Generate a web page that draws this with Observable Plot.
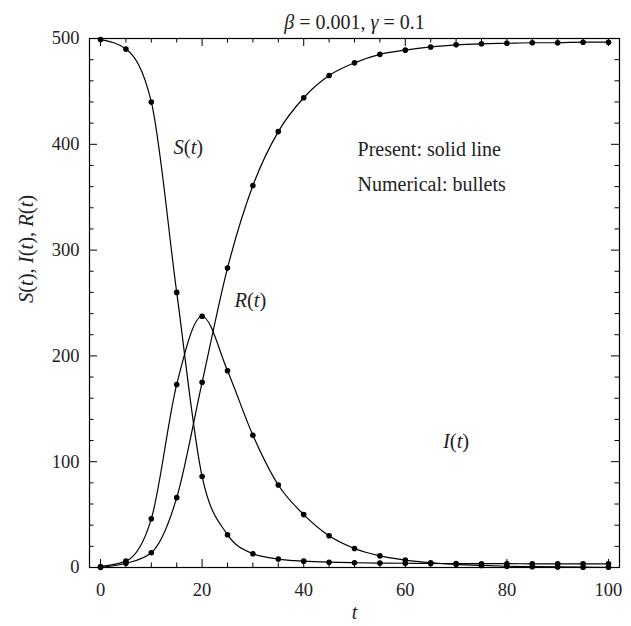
<!DOCTYPE html>
<html><head><meta charset="utf-8">
<script src="https://cdn.jsdelivr.net/npm/d3@7"></script>
<script src="https://cdn.jsdelivr.net/npm/@observablehq/plot@0.6"></script>
<style>
body{margin:0;background:#fff}
#chart svg, #chart svg text, #chart svg tspan {font-family: "Liberation Serif", "DejaVu Serif", serif !important;}
</style>
</head><body><div id="chart"></div>
<script>
const tValues = [0,5,10,15,20,25,30,35,40,45,50,55,60,65,70,75,80,85,90,95,100];
const susceptible = [499,490,440,260,86,31,13,8,6,5,4.5,4.2,4,3.8,3.7,3.6,3.6,3.5,3.5,3.5,3.5];
const infected = [1,6,46,173,237.5,186,125,78,50,30,18,11,7,4.5,3,2,1.2,0.8,0.5,0.3,0.2];
const recovered = [0,4,14,66,175,283,361,412,444,465,477,485,489,492,494,495,495.5,496,496,496.5,496.5];
const xMajorTicks = [0,20,40,60,80,100];
const xMinorTicks = [5,10,15,25,30,35,45,50,55,65,70,75,85,90,95];
const yMajorTicks = [0,100,200,300,400,500];
const yMinorTicks = [20,40,60,80,120,140,160,180,220,240,260,280,320,340,360,380,420,440,460,480];
const curveLabels = [
  {t: 17.3, v: 397, text: "S(t)"},
  {t: 29.5, v: 252, text: "R(t)"},
  {t: 70, v: 119, text: "I(t)"}
];
const noteLines = [
  {t: 50.6, v: 395, text: "Present: solid line"},
  {t: 50.6, v: 362, text: "Numerical: bullets"}
];
const titleText = "β = 0.001, γ = 0.1";
const xLabel = "t";
const yLabel = "S(t), I(t), R(t)";

const series = [
  {name: "S", values: susceptible},
  {name: "I", values: infected},
  {name: "R", values: recovered}
];
const rows = series.flatMap(s => tValues.map((t, i) => ({series: s.name, t, v: s.values[i]})));

const W = 631, H = 626, mt = 38, mb = 59, ml = 89, mr = 12;
const FW = W - ml - mr, FH = H - mt - mb;
const font = "Liberation Serif";
const ink = "#222";

const chart = Plot.plot({
  width: W, height: H,
  marginTop: mt, marginBottom: mb, marginLeft: ml, marginRight: mr,
  style: {fontFamily: font, fontSize: "18px", color: ink, background: "#fff"},
  x: {domain: [-2.17, 102.17]},
  y: {domain: [0, 500]},
  marks: [
    Plot.line(rows, {x: "t", y: "v", z: "series", curve: "monotone-x", stroke: "#000", strokeWidth: 1.2}),
    Plot.dot(rows, {x: "t", y: "v", r: 2.8, fill: "#000", stroke: "none"}),
    // ticks inward on all four sides
    Plot.tickX(xMajorTicks, {x: d => d, insetTop: FH - 8, stroke: "#000"}),
    Plot.tickX(xMajorTicks, {x: d => d, insetBottom: FH - 8, stroke: "#000"}),
    Plot.tickX(xMinorTicks, {x: d => d, insetTop: FH - 4.5, stroke: "#000"}),
    Plot.tickX(xMinorTicks, {x: d => d, insetBottom: FH - 4.5, stroke: "#000"}),
    Plot.tickY(yMajorTicks, {y: d => d, insetRight: FW - 8, stroke: "#000"}),
    Plot.tickY(yMajorTicks, {y: d => d, insetLeft: FW - 8, stroke: "#000"}),
    Plot.tickY(yMinorTicks, {y: d => d, insetRight: FW - 4.5, stroke: "#000"}),
    Plot.tickY(yMinorTicks, {y: d => d, insetLeft: FW - 4.5, stroke: "#000"}),
    Plot.frame({stroke: "#000", strokeWidth: 1.2}),
    Plot.axisX(xMajorTicks, {tickSize: 0, tickPadding: 15, fontSize: 18.5, fontFamily: font, fill: ink, label: null}),
    Plot.axisY(yMajorTicks, {tickSize: 0, tickPadding: 10, fontSize: 18.5, fontFamily: font, fill: ink, label: null}),
    Plot.text([xLabel], {frameAnchor: "bottom", dy: 51, fontSize: 20, fontFamily: font, fill: ink, text: d => d}),
    Plot.text([yLabel], {frameAnchor: "left", dx: -63, rotate: -90, fontSize: 20.5, fontFamily: font, fill: ink, text: d => d}),
    Plot.text([titleText], {frameAnchor: "top", dy: -24, fontSize: 20, fontFamily: font, fill: ink, text: d => d}),
    Plot.text(curveLabels, {x: "t", y: "v", text: "text", fontSize: 20.5, fontFamily: font, fill: ink}),
    Plot.text(noteLines, {x: "t", y: "v", text: "text", textAnchor: "start", fontSize: 20, fontFamily: font, fill: ink})
  ]
});
document.getElementById("chart").appendChild(chart);

// italicise math letters in math strings
const mathStrings = new Set([titleText, xLabel, yLabel, ...curveLabels.map(d => d.text)]);
d3.select(chart).selectAll("text").each(function() {
  const el = this;
  if (el.querySelector("tspan")) return;
  const s = el.textContent;
  if (!mathStrings.has(s)) return;
  el.textContent = "";
  const parts = s.match(/[A-Za-zα-ω]+|[^A-Za-zα-ω]+/g);
  for (const p of parts) {
    const ts = document.createElementNS("http://www.w3.org/2000/svg", "tspan");
    ts.textContent = p;
    if (/[A-Za-zα-ω]/.test(p)) ts.setAttribute("font-style", "italic");
    el.appendChild(ts);
  }
});
</script>
</body></html>
